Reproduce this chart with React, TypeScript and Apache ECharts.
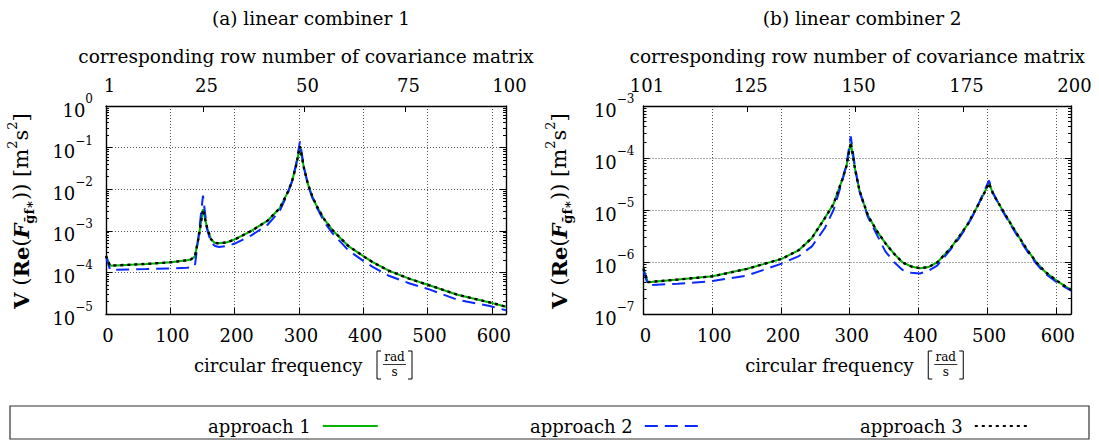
import React, { useEffect, useRef } from 'react';
import * as echarts from 'echarts';

const FONT = "'DejaVu Serif', serif";

// ---------- data: (a) linear combiner 1 ----------
const freqL = [0, 6.28, 62.8, 100.5, 125.7, 131.9, 138.2, 144.5, 150.8, 157.1, 163.4, 169.6, 175.9, 188.5, 201.1, 226.2, 251.3, 270.2, 282.7, 289.0, 295.3, 301.6, 307.9, 314.2, 320.4, 326.7, 339.3, 351.9, 377.0, 402.1, 414.7, 439.8, 471.2, 502.7, 546.6, 596.9, 622.0];
const approach1L = [2.5e-4, 1.45e-4, 1.6e-4, 1.75e-4, 1.95e-4, 2.05e-4, 2.4e-4, 7.5e-4, 3.3e-3, 1.2e-3, 6.2e-4, 5.1e-4, 5.0e-4, 5.3e-4, 6.3e-4, 1.0e-3, 1.75e-3, 3.5e-3, 8.5e-3, 1.5e-2, 3.5e-2, 0.105, 3.2e-2, 1.3e-2, 7e-3, 4.2e-3, 1.9e-3, 1.05e-3, 4.3e-4, 2.35e-4, 1.76e-4, 1.1e-4, 7.1e-5, 4.9e-5, 2.9e-5, 1.9e-5, 1.5e-5];
const approach2L = [2.4e-4, 1.15e-4, 1.2e-4, 1.25e-4, 1.3e-4, 1.33e-4, 1.4e-4, 9e-4, 7e-3, 1.1e-3, 5.2e-4, 4.3e-4, 4.1e-4, 4.3e-4, 5.0e-4, 7.8e-4, 1.4e-3, 3.0e-3, 8e-3, 1.5e-2, 3.8e-2, 0.14, 3.3e-2, 1.25e-2, 6.5e-3, 3.9e-3, 1.65e-3, 8.8e-4, 3.4e-4, 1.8e-4, 1.36e-4, 8.3e-5, 5.5e-5, 3.9e-5, 2.2e-5, 1.55e-5, 1.23e-5];
const approach3L = [2.5e-4, 1.45e-4, 1.6e-4, 1.75e-4, 1.95e-4, 2.05e-4, 2.4e-4, 7.5e-4, 3.3e-3, 1.2e-3, 6.2e-4, 5.1e-4, 5.0e-4, 5.3e-4, 6.3e-4, 1.0e-3, 1.75e-3, 3.5e-3, 8.5e-3, 1.5e-2, 3.5e-2, 0.108, 3.2e-2, 1.3e-2, 7e-3, 4.2e-3, 1.9e-3, 1.05e-3, 4.3e-4, 2.35e-4, 1.76e-4, 1.1e-4, 7.1e-5, 4.9e-5, 2.9e-5, 1.9e-5, 1.5e-5];

// ---------- data: (b) linear combiner 2 ----------
const freqR = [0, 6.28, 50.3, 100.5, 150.8, 201.1, 226.2, 245.0, 263.9, 276.5, 289.0, 295.3, 301.6, 307.9, 314.2, 320.4, 326.7, 339.3, 351.9, 364.4, 377.0, 389.6, 402.1, 414.7, 427.3, 446.1, 458.7, 471.2, 483.8, 496.4, 502.7, 508.9, 521.5, 534.1, 546.6, 559.2, 571.8, 584.3, 603.2, 622.0];
const approach1R = [7.5e-7, 4.1e-7, 4.6e-7, 5.3e-7, 7.4e-7, 1.15e-6, 1.7e-6, 2.9e-6, 7e-6, 1.3e-5, 3.8e-5, 7e-5, 1.95e-4, 6e-5, 2.4e-5, 1.35e-5, 7.8e-6, 4.0e-6, 2.3e-6, 1.45e-6, 9.8e-7, 8.2e-7, 7.6e-7, 8.0e-7, 9.8e-7, 1.8e-6, 3.0e-6, 5.2e-6, 1.05e-5, 2.2e-5, 3.3e-5, 2.0e-5, 1.05e-5, 5.5e-6, 3.0e-6, 1.65e-6, 9.8e-7, 6.5e-7, 4.2e-7, 2.9e-7];
const approach2R = [7e-7, 3.6e-7, 3.8e-7, 4.3e-7, 5.5e-7, 9.3e-7, 1.3e-6, 2.0e-6, 4.5e-6, 1.0e-5, 3.5e-5, 7.5e-5, 2.6e-4, 6.5e-5, 2.3e-5, 1.3e-5, 7.2e-6, 3.4e-6, 1.6e-6, 1.0e-6, 7.0e-7, 6.2e-7, 6.0e-7, 6.8e-7, 8.5e-7, 1.7e-6, 2.8e-6, 5.0e-6, 1.0e-5, 2.4e-5, 3.7e-5, 2.1e-5, 1.0e-5, 5.2e-6, 2.8e-6, 1.55e-6, 9.2e-7, 6.0e-7, 3.9e-7, 2.8e-7];
const approach3R = [7.5e-7, 4.1e-7, 4.6e-7, 5.3e-7, 7.4e-7, 1.15e-6, 1.7e-6, 2.9e-6, 7e-6, 1.3e-5, 3.8e-5, 7e-5, 2.0e-4, 6e-5, 2.4e-5, 1.35e-5, 7.8e-6, 4.0e-6, 2.3e-6, 1.45e-6, 9.8e-7, 8.2e-7, 7.6e-7, 8.0e-7, 9.8e-7, 1.8e-6, 3.0e-6, 5.2e-6, 1.05e-5, 2.2e-5, 3.3e-5, 2.0e-5, 1.05e-5, 5.5e-6, 3.0e-6, 1.65e-6, 9.8e-7, 6.5e-7, 4.2e-7, 2.9e-7];

// ---------- axes / labels ----------
const seriesNames = ['approach 1', 'approach 2', 'approach 3'];
const titles = ['(a) linear combiner 1', '(b) linear combiner 2'];
const topAxisName = 'corresponding row number of covariance matrix';
const rowTicksL = [1, 25, 50, 75, 100];
const rowTicksR = [101, 125, 150, 175, 200];
const decadesL = [-5, -4, -3, -2, -1];
const decadesR = [-7, -6, -5, -4];
const FREQ_MAX = 622.04;

const GRIDS = [
  { left: 106, top: 106, width: 400, height: 208 },
  { left: 643.5, top: 106, width: 427.5, height: 208 },
];

const COLORS = ['#00b400', '#0a28ff', '#000000'];

const txt = { fontFamily: FONT, fontSize: 18, color: '#000' };
const blackLine = { color: '#000', width: 1.4 };
const dotted = { color: '#555', width: 1, type: [1, 2] as number[] };

const powRich = {
  b: { fontFamily: FONT, fontSize: 18, lineHeight: 26, verticalAlign: 'bottom', color: '#000' },
  s: { fontFamily: FONT, fontSize: 12, lineHeight: 14, verticalAlign: 'top', color: '#000' },
};
const powLabel = (v: number) => {
  const e = Math.round(Math.log10(v));
  return `{b|10}{s|${e < 0 ? '\u2212' + -e : e}}`;
};

function minorValues(decades: number[]) {
  const out: number[] = [];
  decades.forEach((d) => {
    for (let m = 2; m <= 9; m++) out.push(m * Math.pow(10, d));
  });
  return out;
}

function yAxesFor(gridIndex: number, decades: number[], labelMargin: number) {
  const min = Math.pow(10, decades[0]);
  const max = Math.pow(10, decades[decades.length - 1] + 1);
  const minor = minorValues(decades);
  const base = { gridIndex, type: 'log', logBase: 10, min, max, splitNumber: decades.length };
  return [
    {
      ...base,
      position: 'left',
      axisLine: { show: true, onZero: false, lineStyle: blackLine },
      axisTick: { show: true, inside: true, length: 6, lineStyle: { color: '#000' } },
      axisLabel: { formatter: powLabel, margin: labelMargin, rich: powRich },
      splitLine: { show: true, lineStyle: dotted },
    },
    {
      ...base,
      position: 'left',
      axisLine: { show: false },
      axisTick: { show: true, inside: true, length: 3, customValues: minor, lineStyle: { color: '#000' } },
      axisLabel: { show: false },
      splitLine: { show: false },
    },
    {
      ...base,
      position: 'right',
      axisLine: { show: true, onZero: false, lineStyle: blackLine },
      axisTick: { show: true, inside: true, length: 6, lineStyle: { color: '#000' } },
      axisLabel: { show: false },
      splitLine: { show: false },
    },
    {
      ...base,
      position: 'right',
      axisLine: { show: false },
      axisTick: { show: true, inside: true, length: 3, customValues: minor, lineStyle: { color: '#000' } },
      axisLabel: { show: false },
      splitLine: { show: false },
    },
  ];
}

function xAxesFor(gridIndex: number, rowTicks: number[]) {
  return [
    {
      gridIndex,
      type: 'value',
      position: 'bottom',
      min: 0,
      max: FREQ_MAX,
      interval: 100,
      axisLine: { show: true, onZero: false, lineStyle: blackLine },
      axisTick: { show: true, inside: true, length: 6, lineStyle: { color: '#000' } },
      axisLabel: { ...txt, margin: 12, showMaxLabel: false, padding: [0, 0, 0, 4] },
      splitLine: { show: true, lineStyle: dotted },
    },
    {
      gridIndex,
      type: 'value',
      position: 'top',
      min: rowTicks[0],
      max: rowTicks[rowTicks.length - 1],
      axisLine: { show: true, onZero: false, lineStyle: blackLine },
      axisTick: { show: true, inside: true, length: 6, customValues: rowTicks, lineStyle: { color: '#000' } },
      axisLabel: { ...txt, margin: 12, customValues: rowTicks, padding: [0, 0, 0, 7] },
      splitLine: { show: false },
      name: topAxisName,
      nameLocation: 'middle',
      nameGap: 40,
      nameTextStyle: { ...txt, fontSize: 18.5 },
    },
  ];
}

function freqName(cx: number) {
  const y = 365;
  return [
    { type: 'text', x: cx - 112, y, style: { text: 'circular frequency', fontFamily: FONT, fontSize: 18, fill: '#000', align: 'left', verticalAlign: 'middle' } },
    { type: 'polyline', shape: { points: [[cx + 75, 351], [cx + 71, 351], [cx + 71, 379], [cx + 75, 379]] }, style: { stroke: '#000', lineWidth: 1, fill: 'none' } },
    { type: 'text', x: cx + 88.5, y: 357, style: { text: 'rad', fontFamily: FONT, fontSize: 12, fill: '#000', align: 'center', verticalAlign: 'middle' } },
    { type: 'line', shape: { x1: cx + 77, y1: 364.5, x2: cx + 100, y2: 364.5 }, style: { stroke: '#000', lineWidth: 0.8 } },
    { type: 'text', x: cx + 88.5, y: 372, style: { text: 's', fontFamily: FONT, fontSize: 12, fill: '#000', align: 'center', verticalAlign: 'middle' } },
    { type: 'polyline', shape: { points: [[cx + 102, 351], [cx + 106, 351], [cx + 106, 379], [cx + 102, 379]] }, style: { stroke: '#000', lineWidth: 1, fill: 'none' } },
  ];
}

const yNameRich = {
  n: { fontFamily: FONT, fontSize: 21, lineHeight: 30, verticalAlign: 'middle', fill: '#000' },
  b: { fontFamily: FONT, fontSize: 21, fontWeight: 'bold', lineHeight: 30, verticalAlign: 'middle', fill: '#000' },
  f: { fontFamily: FONT, fontSize: 21, fontWeight: 'bold', fontStyle: 'italic', lineHeight: 30, verticalAlign: 'middle', fill: '#000' },
  sub: { fontFamily: FONT, fontSize: 13, fontWeight: 'bold', lineHeight: 12, verticalAlign: 'bottom', fill: '#000' },
  sup: { fontFamily: FONT, fontSize: 13, lineHeight: 12, verticalAlign: 'top', fill: '#000' },
};
const yNameText = '{b|V}{n| (}{b|Re}{n|(}{f|F}{sub|\u1E21f\u2217}{n|)) [m}{sup|2}{n|s}{sup|2}{n|]}';

function yName(x: number) {
  return {
    type: 'text',
    x,
    y: 211,
    rotation: Math.PI / 2,
    style: { text: yNameText, rich: yNameRich, fontFamily: FONT, fontSize: 21, fill: '#000', align: 'center', verticalAlign: 'middle' },
  };
}

function pairs(f: number[], v: number[]) {
  return f.map((x, i) => [x, v[i]]);
}

function buildOption() {
  const panels = [
    { f: freqL, s: [approach1L, approach2L, approach3L] },
    { f: freqR, s: [approach1R, approach2R, approach3R] },
  ];
  const lineStyles = [
    { color: COLORS[0], width: 2, type: 'solid' },
    { color: COLORS[1], width: 2, type: [13, 7] },
    { color: COLORS[2], width: 2.4, type: [3, 4] },
  ];
  const series: any[] = [];
  panels.forEach((p, pi) => {
    p.s.forEach((vals, si) => {
      series.push({
        name: seriesNames[si],
        type: 'line',
        xAxisIndex: pi * 2,
        yAxisIndex: pi * 4,
        data: pairs(p.f, vals),
        showSymbol: false,
        symbol: 'none',
        lineStyle: lineStyles[si],
        itemStyle: { color: lineStyles[si].color },
        z: 3 + si,
        silent: true,
      });
    });
  });

  const legendLefts = [203, 525, 855];
  const legends = seriesNames.map((n, i) => ({
    data: [n],
    left: legendLefts[i],
    top: 412,
    align: 'right',
    itemWidth: 55,
    itemHeight: 14,
    selectedMode: false,
    itemStyle: { opacity: 0, borderWidth: 0 },
    textStyle: { ...txt, padding: [0, 7, 0, 0] },
  }));

  const centers = GRIDS.map((g) => g.left + g.width / 2);

  return {
    animation: false,
    backgroundColor: '#fff',
    title: titles.map((t, i) => ({
      text: t,
      left: centers[i],
      top: 4,
      textAlign: 'center',
      textStyle: { ...txt, fontSize: 18.5, fontWeight: 'normal' },
    })),
    legend: legends,
    grid: GRIDS,
    xAxis: [...xAxesFor(0, rowTicksL), ...xAxesFor(1, rowTicksR)],
    yAxis: [...yAxesFor(0, decadesL, 13), ...yAxesFor(1, decadesR, 9)],
    series,
    graphic: [
      ...freqName(centers[0]),
      ...freqName(centers[1]),
      yName(21),
      yName(559),
      { type: 'rect', shape: { x: 10, y: 406, width: 1079, height: 33 }, style: { fill: 'none', stroke: '#333', lineWidth: 1.2 }, z: -1 },
    ],
  };
}

export default function App() {
  const ref = useRef<HTMLDivElement>(null);
  useEffect(() => {
    const chart = echarts.init(ref.current!, null, { renderer: 'svg' });
    chart.setOption(buildOption() as any);
    return () => chart.dispose();
  }, []);
  return (
    <div
      ref={ref}
      style={{ position: 'fixed', left: 0, top: 0, width: 1099, height: 441, background: '#fff' }}
    />
  );
}
